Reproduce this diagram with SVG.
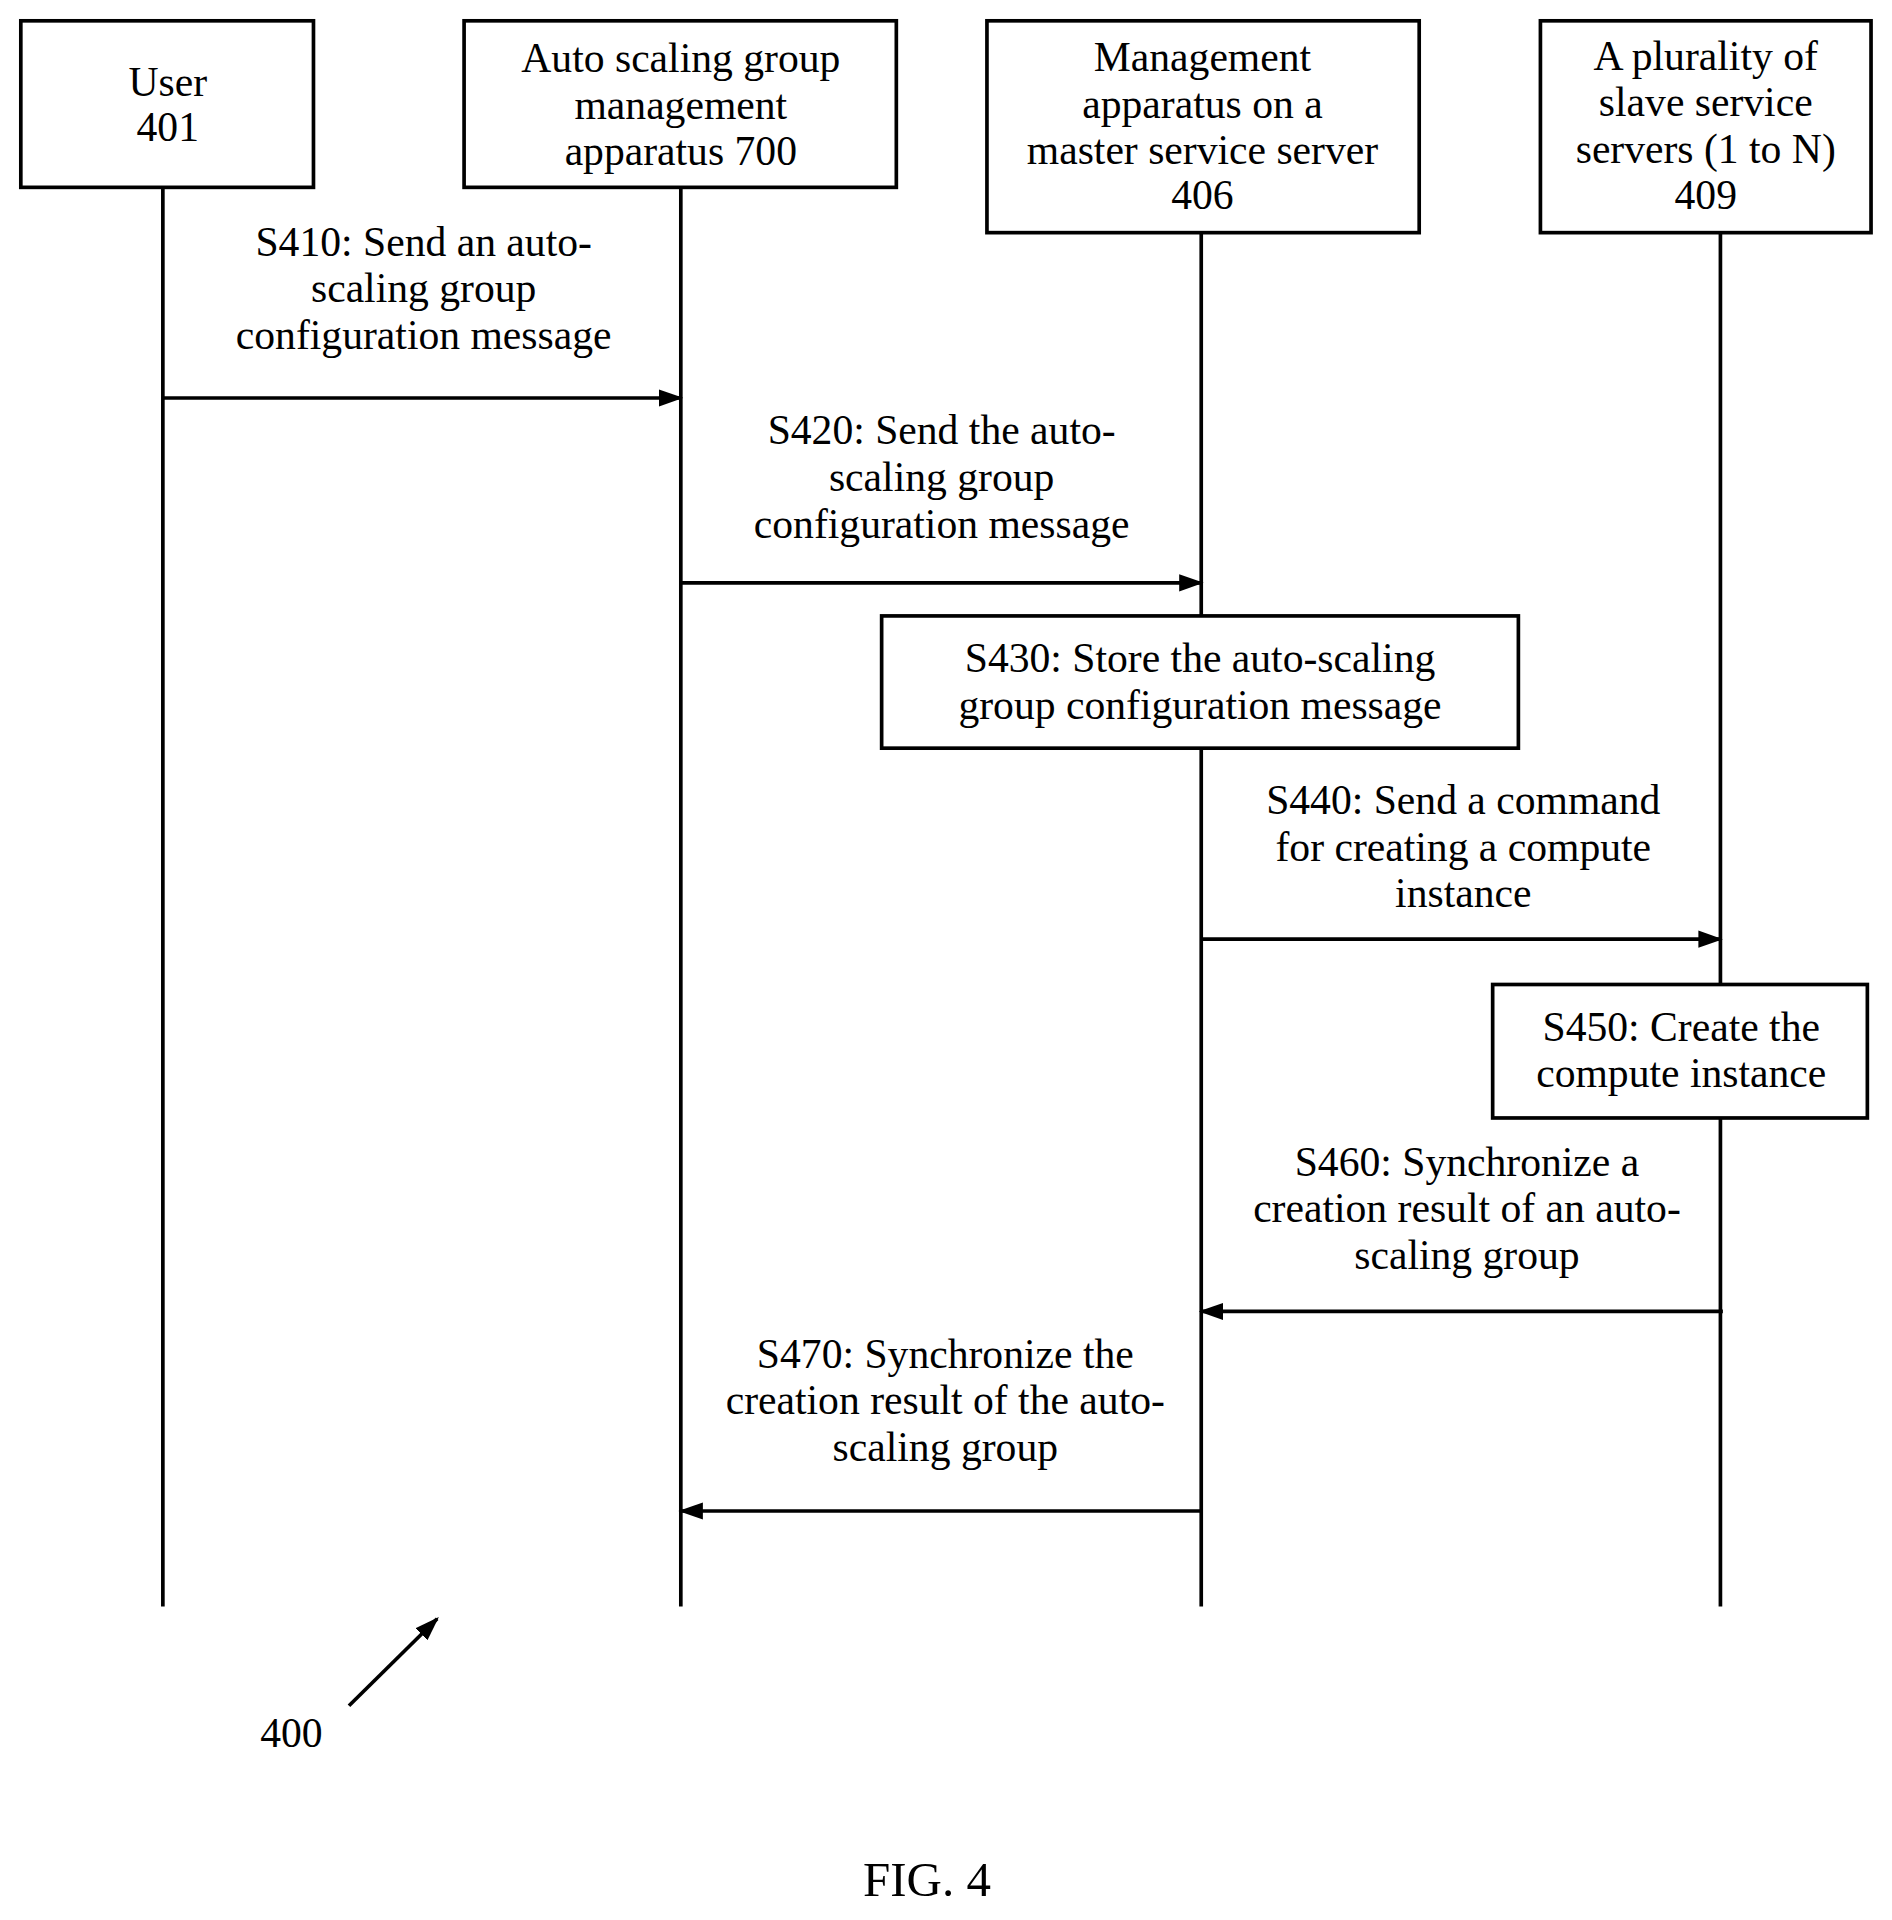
<svg xmlns="http://www.w3.org/2000/svg" width="1892" height="1920" viewBox="0 0 1892 1920">
<style>
text{font-family:"Liberation Serif","Times New Roman",serif;font-size:34px;fill:#000;text-anchor:middle}
.b{fill:#fff;stroke:#000;stroke-width:3}
.l{stroke:#000;stroke-width:3;fill:none}
</style>
<defs><marker id="a" markerWidth="10" markerHeight="10" refX="9" refY="5" orient="auto" markerUnits="userSpaceOnUse" viewBox="0 0 10 10"><path d="M0,0L10,5L0,10z" fill="#000"/></marker>
<marker id="a2" markerWidth="20" markerHeight="20" refX="18" refY="7" orient="auto" markerUnits="userSpaceOnUse" viewBox="0 0 20 14"><path d="M0,0L20,7L0,14z" fill="#000"/></marker></defs>
<rect width="1892" height="1920" fill="#fff"/>
<g transform="scale(1.2245)">
<g id="lifelines">
<line class="l" x1="133" y1="153" x2="133" y2="1312"/>
<line class="l" x1="556" y1="153" x2="556" y2="1312"/>
<line class="l" x1="981" y1="190" x2="981" y2="1312"/>
<line class="l" x1="1405" y1="190" x2="1405" y2="1312"/>
</g>
<g id="user"><rect class="b" x="17" y="17" width="239" height="136"/><text x="137" y="78">User</text><text x="137" y="115">401</text></g>
<g id="asg"><rect class="b" x="379" y="17" width="353" height="136"/><text x="556" y="59">Auto scaling group</text><text x="556" y="97">management</text><text x="556" y="135">apparatus 700</text></g>
<g id="mgmt"><rect class="b" x="806" y="17" width="353" height="173"/><text x="982" y="58">Management</text><text x="982" y="96">apparatus on a</text><text x="982" y="134">master service server</text><text x="982" y="171">406</text></g>
<g id="slave"><rect class="b" x="1258" y="17" width="270" height="173"/><text x="1393" y="57">A plurality of</text><text x="1393" y="95">slave service</text><text x="1393" y="133">servers (1 to N)</text><text x="1393" y="171">409</text></g>
<g id="s430"><rect class="b" x="720" y="503" width="520" height="108"/><text x="980" y="549">S430: Store the auto-scaling</text><text x="980" y="587">group configuration message</text></g>
<g id="s450"><rect class="b" x="1219" y="804" width="306" height="109"/><text x="1373" y="850">S450: Create the</text><text x="1373" y="888">compute instance</text></g>
<g id="connectors">
<line class="l" x1="133" y1="325" x2="556" y2="325" marker-end="url(#a2)"/>
<line class="l" x1="556" y1="476" x2="981" y2="476" marker-end="url(#a2)"/>
<line class="l" x1="981" y1="767" x2="1405" y2="767" marker-end="url(#a2)"/>
<line class="l" x1="1407" y1="1071" x2="981" y2="1071" marker-end="url(#a2)"/>
<line class="l" x1="981" y1="1234" x2="556" y2="1234" marker-end="url(#a2)"/>
<line class="l" x1="285" y1="1393" x2="357" y2="1322" marker-end="url(#a2)"/>
</g>
<g id="labels">
<text x="346" y="209">S410: Send an auto-</text><text x="346" y="247">scaling group</text><text x="346" y="285">configuration message</text>
<text x="769" y="363">S420: Send the auto-</text><text x="769" y="401">scaling group</text><text x="769" y="439">configuration message</text>
<text x="1195" y="665">S440: Send a command</text><text x="1195" y="703">for creating a compute</text><text x="1195" y="741">instance</text>
<text x="1198" y="960">S460: Synchronize a</text><text x="1198" y="998">creation result of an auto-</text><text x="1198" y="1036">scaling group</text>
<text x="772" y="1117">S470: Synchronize the</text><text x="772" y="1155">creation result of the auto-</text><text x="772" y="1193">scaling group</text>
<text x="238" y="1427">400</text>
<text x="757" y="1548" style="font-size:40px">FIG. 4</text>
</g>
</g>
</svg>
